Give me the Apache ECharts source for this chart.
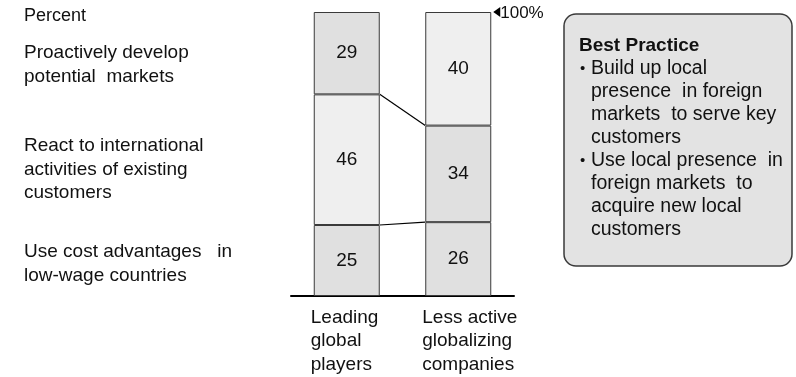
<!DOCTYPE html>
<html>
<head>
<meta charset="utf-8">
<script src="https://cdn.jsdelivr.net/npm/echarts@6/dist/echarts.min.js"></script>
<style>
  html, body { margin: 0; padding: 0; background: #ffffff; }
  #chart { width: 796px; height: 377px; }
</style>
</head>
<body>
<div id="chart"></div>
<script>
// Company groups on the x axis
const categories = ['Leading\nglobal\nplayers', 'Less active\nglobalizing\ncompanies'];

// Share of each internationalization motive, percent (bottom to top of the stack)
const costAdvantages = [25, 26];
const reactToCustomers = [46, 34];
const developMarkets = [29, 40];

// Motive descriptions shown at the left
const motiveLabels = [
  'Proactively develop\npotential  markets',
  'React to international\nactivities of existing\ncustomers',
  'Use cost advantages   in\nlow-wage countries'
];

const topTick = 100;
const topTickLabel = '100%';
const unitLabel = 'Percent';

const boxTitle = 'Best Practice';
const boxBullets = [
  ['Build up local', 'presence  in foreign', 'markets  to serve key', 'customers'],
  ['Use local presence  in', 'foreign markets  to', 'acquire new local', 'customers']
];

const FONT = '"Liberation Sans", Arial, sans-serif';
const DARK = '#e0e0e0';
const LIGHT = '#efefef';
const BAR_W = 66;

// Cell shading per group: [left group, right group]
const shades = {
  cost: [DARK, DARK],
  react: [LIGHT, DARK],
  develop: [DARK, LIGHT]
};

function cells(values, fills) {
  return values.map((v, i) => ({ value: v, itemStyle: { color: fills[i] } }));
}

function barSeries(name, values, fills) {
  return {
    name: name,
    type: 'bar',
    stack: 'total',
    barWidth: BAR_W,
    data: cells(values, fills),
    itemStyle: { borderColor: '#3a3a3a', borderWidth: 1 },
    label: {
      show: true,
      position: 'inside',
      color: '#111',
      fontFamily: FONT,
      fontSize: 19
    },
    emphasis: { disabled: true },
    z: 2
  };
}

// Boundaries between stacked segments, linked across the two groups
const boundaries = [
  [0, costAdvantages[0], costAdvantages[1]],
  [0, costAdvantages[0] + reactToCustomers[0], costAdvantages[1] + reactToCustomers[1]]
];

const chart = echarts.init(document.getElementById('chart'), null, { renderer: 'canvas' });

const textLine = (text, x, y, size, weight) => ({
  type: 'text',
  style: {
    text: text, x: x, y: y,
    fill: '#111',
    font: (weight || 'normal') + ' ' + size + 'px ' + FONT,
    verticalAlign: 'middle'
  }
});

// Left-hand motive texts
const leftGraphics = [textLine(unitLabel, 24, 16, 18)];
const motiveTops = [53, 146, 252];
motiveLabels.forEach((t, k) => {
  t.split('\n').forEach((line, j) => {
    leftGraphics.push(textLine(line, 24, motiveTops[k] + j * 23.5, 19));
  });
});

// Best-practice box
const boxChildren = [{
  type: 'rect',
  shape: { x: 564, y: 14, width: 228, height: 252, r: 12 },
  style: { fill: '#e3e3e3', stroke: '#3a3a3a', lineWidth: 1.5 }
}, textLine(boxTitle, 579, 46, 19, 'bold')];
let lineY = 69;
boxBullets.forEach(lines => {
  boxChildren.push(textLine('\u2022', 580, lineY, 15));
  lines.forEach(l => {
    boxChildren.push(textLine(l, 591, lineY, 19.5));
    lineY += 23;
  });
});

chart.setOption({
  animation: false,
  backgroundColor: '#ffffff',
  grid: { left: 291, right: 282, top: 12, bottom: 81 },
  xAxis: {
    type: 'category',
    data: categories,
    axisLine: { show: true, lineStyle: { color: '#000', width: 2 } },
    axisTick: { show: false },
    axisLabel: { show: false },
    splitLine: { show: false }
  },
  yAxis: {
    type: 'value',
    min: 0,
    max: topTick,
    show: false
  },
  series: [
    barSeries('Use cost advantages in low-wage countries', costAdvantages, shades.cost),
    barSeries('React to international activities of existing customers', reactToCustomers, shades.react),
    barSeries('Proactively develop potential markets', developMarkets, shades.develop),
    {
      // connector lines between the segment boundaries of the two groups
      type: 'custom',
      data: boundaries,
      encode: { x: 0, y: 1 },
      renderItem: function (params, api) {
        const p0 = api.coord([0, api.value(1)]);
        const p1 = api.coord([1, api.value(2)]);
        return {
          type: 'line',
          shape: { x1: p0[0] + BAR_W / 2, y1: p0[1], x2: p1[0] - BAR_W / 2, y2: p1[1] },
          style: { stroke: '#000', lineWidth: 1.2 }
        };
      },
      z: 3
    },
    {
      // 100% marker at the top of the right-hand bar
      type: 'custom',
      data: [[1, topTick]],
      encode: { x: 0, y: 1 },
      renderItem: function (params, api) {
        const p = api.coord([api.value(0), api.value(1)]);
        const x = p[0] + BAR_W / 2 + 2;
        return {
          type: 'group',
          children: [{
            type: 'polygon',
            shape: { points: [[x, p[1]], [x + 7, p[1] - 5], [x + 7, p[1] + 5]] },
            style: { fill: '#000' },
            z2: 10
          }, {
            type: 'text',
            style: {
              text: topTickLabel, x: x + 7, y: p[1] + 1.5,
              fill: '#111', font: '17px ' + FONT, verticalAlign: 'middle'
            }
          }]
        };
      },
      z: 3
    },
    {
      // group names under the bars, left-aligned with the bar edge
      type: 'custom',
      data: categories.map((c, i) => [i, 0]),
      encode: { x: 0, y: 1 },
      renderItem: function (params, api) {
        const i = api.value(0);
        const p = api.coord([i, 0]);
        return {
          type: 'text',
          style: {
            text: categories[i],
            x: p[0] - BAR_W / 2 - 3, y: p[1] + 10,
            fill: '#111', font: '19px ' + FONT,
            lineHeight: 23.5, verticalAlign: 'top', align: 'left'
          }
        };
      },
      z: 3
    }
  ],
  graphic: leftGraphics.concat([{ type: 'group', children: boxChildren }])
});
</script>
</body>
</html>
